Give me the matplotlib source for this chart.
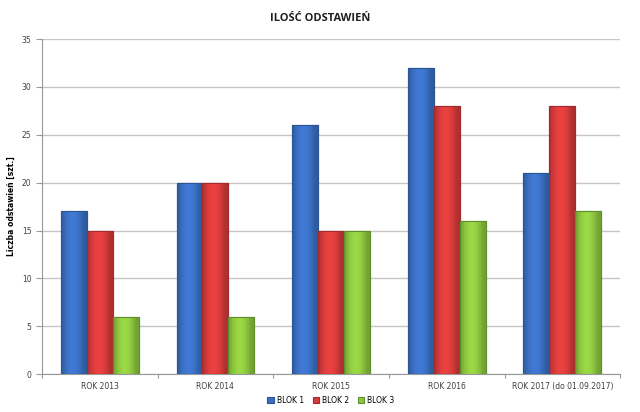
import matplotlib
matplotlib.use("Agg")
import matplotlib.pyplot as plt
import numpy as np
from matplotlib.colors import to_rgb

# dane
lata = ["ROK 2013", "ROK 2014", "ROK 2015", "ROK 2016", "ROK 2017 (do 01.09.2017)"]
blok1 = [17, 20, 26, 32, 21]
blok2 = [15, 20, 15, 28, 28]
blok3 = [6, 6, 15, 16, 17]

serie = [("BLOK 1", blok1, "#3a6fc2", "#2a5494"),
         ("BLOK 2", blok2, "#d63b3b", "#a32a2a"),
         ("BLOK 3", blok3, "#8dc63f", "#5f8f2a")]

fig = plt.figure(figsize=(6.4, 4.12), dpi=100)
ax = fig.add_axes([0.0656, 0.092, 0.9034, 0.813])

x = np.arange(len(lata))
w = 0.224


def cieniowanie(kolor):
    # poziomy gradient: ciemniejsze brzegi, jaśniejszy środek
    c = np.array(to_rgb(kolor))
    t = np.linspace(0, 1, 32)
    f = 0.82 + 0.28 * np.sin(np.pi * np.clip(t * 1.1, 0, 1))
    rgb = np.clip(c[None, :] * f[:, None], 0, 1)
    return rgb[None, :, :]


for i, (nazwa, vals, kolor, brzeg) in enumerate(serie):
    bars = ax.bar(x + (i - 1) * w, vals, w, color=kolor, edgecolor=brzeg,
                  linewidth=0.8, label=nazwa, zorder=3)
    grad = cieniowanie(kolor)
    for b in bars:
        x0, y0 = b.get_x(), b.get_y()
        im = ax.imshow(grad, extent=[x0, x0 + b.get_width(), y0, y0 + b.get_height()],
                       aspect="auto", zorder=3.5, interpolation="bilinear")
        im.set_clip_path(b)
        ax.bar(x0 + b.get_width() / 2, b.get_height(), b.get_width(), fill=False,
               edgecolor=brzeg, linewidth=0.8, zorder=4)

ax.set_ylim(0, 35)
ax.set_xlim(-0.5, len(lata) - 0.5)
ax.set_yticks(range(0, 36, 5))
ax.yaxis.grid(True, color="#c8c4c4", linewidth=1.0, zorder=0)
ax.set_axisbelow(True)

# etykiety kategorii w środku, kreski między grupami
ax.set_xticks(np.arange(-0.5, len(lata), 1.0))
ax.set_xticklabels([])
ax.set_xticks(x, minor=True)
ax.set_xticklabels(lata, minor=True)
ax.tick_params(axis="x", which="minor", length=0, labelsize=5.5, colors="#404040", pad=6)
ax.tick_params(axis="x", which="major", length=3, color="#999999")
ax.tick_params(axis="y", length=4, color="#999999", labelsize=5.5, labelcolor="#404040")

for s in ["top", "right"]:
    ax.spines[s].set_visible(False)
ax.spines["left"].set_color("#999999")
ax.spines["bottom"].set_color("#999999")

ax.set_ylabel("Liczba odstawień [szt.]", fontsize=5.5, fontweight="bold", labelpad=4)
fig.text(0.5, 0.955, "ILOŚĆ ODSTAWIEŃ", ha="center", va="center", family="Open Sans",
         fontsize=8, fontweight="bold", color="#202020")

ax.legend(loc="upper center", bbox_to_anchor=(0.5, -0.045), ncol=3, frameon=False,
          fontsize=5.5, handlelength=0.8, handleheight=0.8, columnspacing=1.2,
          handletextpad=0.4)

fig.savefig("out.png", dpi=100)
